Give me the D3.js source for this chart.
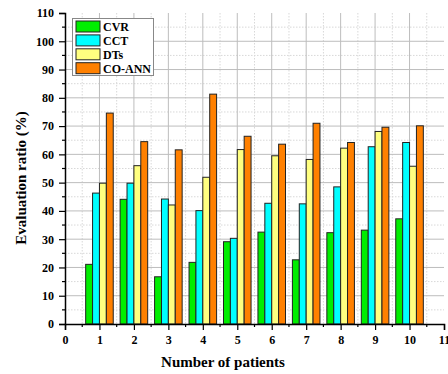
<!DOCTYPE html>
<html>
<head>
<meta charset="utf-8">
<script src="https://cdn.jsdelivr.net/npm/d3@7/dist/d3.min.js"></script>
<style>
  html, body { margin: 0; padding: 0; background: #fff; }
  svg { display: block; }
  text { font-family: "Liberation Serif", "Times New Roman", serif; font-weight: bold; fill: #000; }
</style>
</head>
<body>
<svg id="chart" width="448" height="374"></svg>
<script>
// Patient groups on the x axis
const patients = [1, 2, 3, 4, 5, 6, 7, 8, 9, 10];
// Evaluation ratio (%) per method
const seriesNames = ["CVR", "CCT", "DTs", "CO-ANN"];
const cvr   = [21.1, 44.1, 16.7, 21.8, 29.1, 32.5, 22.7, 32.3, 33.2, 37.2];
const cct   = [46.3, 49.8, 44.2, 40.1, 30.3, 42.7, 42.5, 48.5, 62.7, 64.2];
const dts   = [49.8, 56.0, 42.1, 51.9, 61.7, 59.5, 58.2, 62.2, 68.1, 55.8];
const coann = [74.6, 64.5, 61.6, 81.3, 66.4, 63.6, 71.0, 64.2, 69.6, 70.1];
const seriesColors = ["#00ee00", "#00ffff", "#ffff80", "#ff8000"];
// Axis ticks
const xTicks = [0, 1, 2, 3, 4, 5, 6, 7, 8, 9, 10, 11];
const yTicks = [0, 10, 20, 30, 40, 50, 60, 70, 80, 90, 100, 110];

const series = [cvr, cct, dts, coann];

const svg = d3.select("#chart");
const plotLeft = 65, plotRight = 444, plotTop = 13, plotBottom = 324;

const x = d3.scaleLinear().domain([0, 11]).range([plotLeft, plotRight]);
const y = d3.scaleLinear().domain([0, 110]).range([plotBottom, plotTop]);

// Grid: minor dotted, major solid
const grid = svg.append("g");
const minorY = d3.range(5, 110, 10);
const minorX = d3.range(0.5, 11, 1);
grid.selectAll(".gmy").data(minorY).enter().append("line")
  .attr("x1", plotLeft).attr("x2", plotRight)
  .attr("y1", d => y(d)).attr("y2", d => y(d))
  .attr("stroke", "#d8d8d8").attr("stroke-dasharray", "1.5,1.5").attr("stroke-width", 1);
grid.selectAll(".gmx").data(minorX).enter().append("line")
  .attr("y1", plotTop).attr("y2", plotBottom)
  .attr("x1", d => x(d)).attr("x2", d => x(d))
  .attr("stroke", "#d8d8d8").attr("stroke-dasharray", "1.5,1.5").attr("stroke-width", 1);
grid.selectAll(".gy").data(yTicks.filter(d => d > 0 && d < 110)).enter().append("line")
  .attr("x1", plotLeft).attr("x2", plotRight)
  .attr("y1", d => y(d)).attr("y2", d => y(d))
  .attr("stroke", "#bdbdbd").attr("stroke-width", 1);
grid.selectAll(".gx").data(xTicks.filter(d => d > 0 && d < 11)).enter().append("line")
  .attr("y1", plotTop).attr("y2", plotBottom)
  .attr("x1", d => x(d)).attr("x2", d => x(d))
  .attr("stroke", "#bdbdbd").attr("stroke-width", 1);

// Bars: four per patient group, each 0.2 units wide
const barW = 0.2;
series.forEach((vals, si) => {
  svg.append("g").selectAll("rect").data(patients).enter().append("rect")
    .attr("x", (p) => x(p - 0.4 + si * barW))
    .attr("width", x(barW) - x(0))
    .attr("y", (p, i) => y(vals[i]))
    .attr("height", (p, i) => y(0) - y(vals[i]))
    .attr("fill", seriesColors[si])
    .attr("stroke", "#222")
    .attr("stroke-width", 1);
});

// Axes
const yAxis = d3.axisLeft(y).tickValues(yTicks).tickSize(6).tickPadding(5);
const gy = svg.append("g").attr("transform", `translate(${plotLeft},0)`).call(yAxis);
gy.select(".domain").attr("stroke", "#000").attr("stroke-width", 1.5);
gy.selectAll(".tick line").attr("stroke", "#000").attr("stroke-width", 1.2);
gy.selectAll(".tick text").style("font-size", "12px");
gy.selectAll(".minor").data(minorY).enter().append("line")
  .attr("x1", -3).attr("x2", 0)
  .attr("y1", d => y(d)).attr("y2", d => y(d))
  .attr("stroke", "#000").attr("stroke-width", 1.2);

const xAxis = d3.axisBottom(x).tickValues(xTicks).tickSize(6).tickPadding(5);
const gx = svg.append("g").attr("transform", `translate(0,${plotBottom})`).call(xAxis);
gx.select(".domain").attr("stroke", "#000").attr("stroke-width", 1.5);
gx.selectAll(".tick line").attr("stroke", "#000").attr("stroke-width", 1.2);
gx.selectAll(".tick text").style("font-size", "12px");
gx.selectAll(".minor").data(minorX).enter().append("line")
  .attr("y1", 0).attr("y2", 3)
  .attr("x1", d => x(d)).attr("x2", d => x(d))
  .attr("stroke", "#000").attr("stroke-width", 1.2);

// Axis titles
svg.append("text")
  .attr("x", 223).attr("y", 367)
  .attr("text-anchor", "middle").style("font-size", "15px")
  .text("Number of patients");
svg.append("text")
  .attr("transform", "translate(26,178) rotate(-90)")
  .attr("text-anchor", "middle").style("font-size", "15px")
  .text("Evaluation ratio (%)");

// Legend
const lg = svg.append("g").attr("transform", "translate(72.5,18.5)");
lg.append("rect").attr("width", 81).attr("height", 57)
  .attr("fill", "#fff").attr("stroke", "#888").attr("stroke-width", 1);
seriesNames.forEach((name, i) => {
  const row = lg.append("g").attr("transform", `translate(3.5,${2.5 + i * 13.9})`);
  row.append("rect").attr("width", 24).attr("height", 11)
    .attr("fill", seriesColors[i]).attr("stroke", "#222").attr("stroke-width", 1);
  row.append("text").attr("x", 27).attr("y", 10).style("font-size", "12px").text(name);
});
</script>
</body>
</html>
